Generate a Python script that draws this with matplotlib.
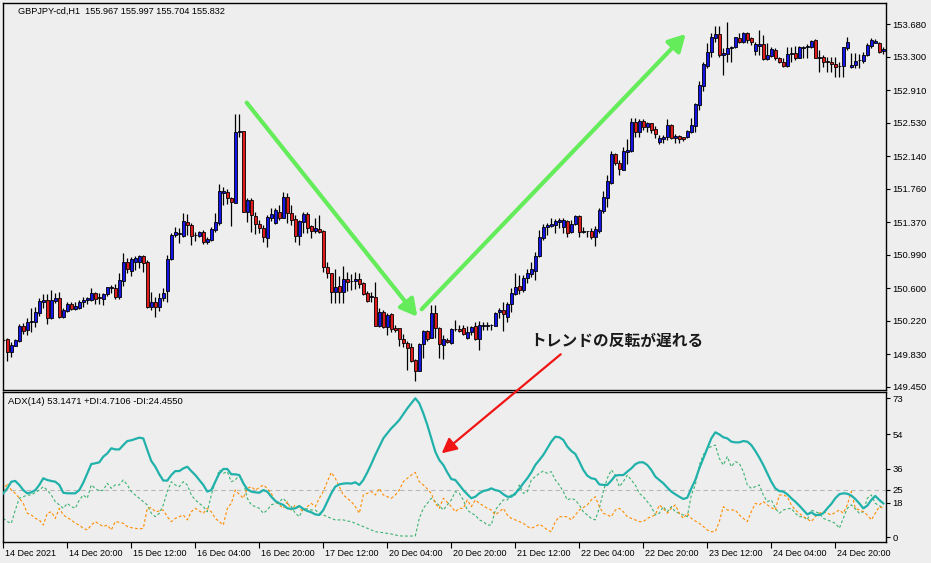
import matplotlib
matplotlib.use("Agg")
import matplotlib.pyplot as plt
from matplotlib.patches import FancyArrowPatch, Rectangle
import matplotlib.transforms as mtransforms

# ---------------- data ----------------
opens = [149.990,150.003,149.852,149.929,149.987,150.159,150.112,150.205,150.205,150.314,
         150.439,150.462,150.255,150.454,150.482,150.267,150.337,150.412,150.357,150.372,
         150.442,150.459,150.462,150.540,150.501,150.474,150.529,150.599,150.599,150.494,
         150.687,150.902,150.804,150.909,150.909,150.976,150.902,150.380,150.435,150.380,
         150.489,150.571,150.941,151.221,151.238,151.213,151.373,151.334,151.218,151.213,
         151.256,151.136,151.163,151.279,151.364,151.715,151.719,151.649,151.598,152.420,
         152.435,151.493,151.626,151.443,151.346,151.299,151.182,151.423,151.357,151.486,
         151.423,151.661,151.474,151.404,151.213,151.376,151.466,151.326,151.268,151.291,
         151.268,150.844,150.774,150.552,150.626,150.559,150.707,150.680,150.684,150.704,
         150.657,150.547,150.499,150.494,150.162,150.318,150.150,150.295,150.132,150.132,
         150.007,149.957,149.917,149.762,149.637,149.948,150.100,150.022,150.307,150.132,
         149.937,149.995,149.957,150.120,150.124,150.132,150.015,150.085,150.159,150.003,
         150.160,150.159,150.168,150.162,150.318,150.345,150.267,150.412,150.532,150.626,
         150.579,150.716,150.766,150.801,150.976,151.182,151.311,151.326,151.338,151.376,
         151.311,151.384,151.252,151.349,151.443,151.259,151.264,151.268,151.201,151.271,
         151.505,151.656,151.824,152.163,152.065,151.980,152.193,152.205,152.536,152.420,
         152.552,152.478,152.525,152.458,152.303,152.338,152.368,152.505,152.350,152.376,
         152.361,152.361,152.427,152.497,152.738,152.964,153.197,153.353,153.524,153.567,
         153.322,153.334,153.400,153.412,153.517,153.470,153.575,153.517,153.372,153.427,
         153.450,153.275,153.314,153.380,153.283,153.237,153.197,153.330,153.342,153.290,
         153.407,153.412,153.419,153.497,153.292,153.295,153.252,153.237,153.213,153.195,
         153.197,153.400,153.185,153.205,153.262,153.252,153.322,153.431,153.466,153.466,
         153.364]
highs = [150.030,150.018,149.972,150.007,150.178,150.194,150.248,150.369,150.384,150.489,
         150.532,150.529,150.579,150.540,150.559,150.372,150.442,150.435,150.442,150.462,
         150.501,150.501,150.599,150.552,150.540,150.540,150.617,150.637,150.645,150.774,
         151.007,150.949,150.968,150.979,150.987,150.987,150.929,150.559,150.501,150.540,
         150.599,150.987,151.244,151.318,151.299,151.474,151.463,151.357,151.259,151.268,
         151.279,151.194,151.318,151.474,151.816,151.778,151.754,151.668,152.633,152.633,
         152.440,151.656,151.656,151.486,151.396,151.338,151.454,151.540,151.540,151.571,
         151.719,151.708,151.571,151.454,151.396,151.486,151.486,151.338,151.423,151.454,
         151.274,150.909,150.780,150.824,150.746,150.859,150.785,150.762,150.785,150.774,
         150.669,150.567,150.559,150.676,150.365,150.345,150.307,150.307,150.170,150.139,
         150.062,149.984,149.957,149.774,149.955,150.112,150.112,150.404,150.404,150.150,
         150.054,150.022,150.139,150.229,150.170,150.170,150.159,150.162,150.209,150.217,
         150.209,150.209,150.178,150.318,150.365,150.435,150.435,150.606,150.774,150.754,
         150.754,150.824,150.906,151.026,151.279,151.349,151.364,151.416,151.404,151.423,
         151.423,151.396,151.396,151.454,151.454,151.311,151.271,151.299,151.326,151.532,
         151.738,151.921,152.201,152.175,152.096,152.252,152.341,152.583,152.583,152.575,
         152.575,152.543,152.532,152.493,152.388,152.388,152.571,152.513,152.396,152.388,
         152.368,152.447,152.590,152.765,153.019,153.244,153.459,153.575,153.660,153.660,
         153.400,153.711,153.431,153.536,153.575,153.594,153.594,153.536,153.477,153.614,
         153.555,153.459,153.412,153.400,153.302,153.283,153.412,153.412,153.431,153.431,
         153.431,153.447,153.497,153.509,153.380,153.322,153.302,153.302,153.302,153.244,
         153.419,153.536,153.342,153.342,153.330,153.353,153.459,153.517,153.506,153.474,
         153.419]
lows = [149.960,149.750,149.797,149.925,149.975,150.065,150.054,150.089,150.150,150.279,
        150.369,150.178,150.240,150.427,150.255,150.255,150.326,150.345,150.345,150.357,
        150.384,150.412,150.450,150.412,150.416,150.404,150.512,150.540,150.474,150.474,
        150.629,150.774,150.746,150.812,150.839,150.792,150.365,150.345,150.267,150.334,
        150.450,150.442,150.929,151.201,151.131,151.201,151.221,151.104,151.154,151.194,
        151.112,151.112,151.154,151.259,151.338,151.571,151.583,151.329,151.590,152.361,
        151.486,151.369,151.259,151.229,151.241,151.136,151.084,151.384,151.353,151.396,
        151.416,151.357,151.338,151.143,151.104,151.241,151.241,151.189,151.241,151.241,
        150.792,150.716,150.424,150.431,150.431,150.424,150.571,150.579,150.587,150.606,
        150.520,150.435,150.442,150.155,150.150,150.139,150.054,150.085,150.085,149.929,
        149.917,149.645,149.735,149.520,149.630,149.782,149.987,150.015,150.015,149.782,
        149.774,149.957,149.945,150.100,150.085,150.054,150.007,150.054,149.992,149.878,
        150.112,150.112,150.112,150.159,150.255,150.100,150.209,150.318,150.520,150.529,
        150.559,150.657,150.731,150.696,150.964,151.163,151.221,151.311,151.241,151.299,
        151.241,151.201,151.241,151.338,151.201,151.241,151.201,151.171,151.093,151.241,
        151.481,151.544,151.816,152.038,151.921,151.975,152.050,152.193,152.361,152.361,
        152.447,152.420,152.408,152.350,152.283,152.291,152.330,152.338,152.298,152.298,
        152.322,152.350,152.415,152.427,152.680,152.902,153.167,153.302,153.477,153.302,
        153.089,153.244,153.244,153.400,153.459,153.459,153.459,153.439,153.322,153.322,
        153.264,153.264,153.302,153.264,153.225,153.185,153.185,153.244,153.264,153.283,
        153.283,153.283,153.400,153.283,153.127,153.185,153.120,153.127,153.069,153.069,
        153.069,153.380,153.167,153.167,153.167,153.225,153.314,153.400,153.459,153.342,
        153.334]
closes = [150.000,149.855,149.937,149.995,150.159,150.100,150.209,150.212,150.322,150.450,
          150.462,150.255,150.462,150.489,150.267,150.345,150.412,150.357,150.392,150.435,
          150.459,150.482,150.540,150.474,150.482,150.529,150.610,150.617,150.501,150.696,
          150.902,150.824,150.941,150.956,150.976,150.890,150.380,150.435,150.380,150.489,
          150.540,150.941,151.221,151.252,151.244,151.381,151.334,151.213,151.224,151.252,
          151.136,151.174,151.291,151.369,151.734,151.734,151.649,151.603,152.420,152.431,
          151.493,151.626,151.454,151.346,151.299,151.194,151.428,151.463,151.509,151.423,
          151.661,151.474,151.396,151.213,151.384,151.466,151.306,151.268,151.306,151.252,
          150.844,150.774,150.559,150.614,150.559,150.707,150.676,150.688,150.704,150.645,
          150.532,150.450,150.503,150.162,150.318,150.150,150.287,150.124,150.112,150.003,
          149.957,149.905,149.754,149.637,149.948,150.100,150.007,150.307,150.132,149.945,
          150.007,149.968,150.120,150.127,150.100,150.062,150.092,150.150,150.003,150.170,
          150.165,150.170,150.172,150.314,150.345,150.295,150.416,150.547,150.617,150.579,
          150.716,150.774,150.824,150.979,151.194,151.311,151.338,151.349,151.384,151.396,
          151.396,151.241,151.349,151.443,151.259,151.262,151.266,151.201,151.287,151.513,
          151.661,151.851,152.163,152.065,151.988,152.201,152.213,152.536,152.420,152.552,
          152.478,152.525,152.447,152.396,152.357,152.368,152.505,152.350,152.376,152.338,
          152.338,152.435,152.505,152.747,152.972,153.217,153.353,153.529,153.567,153.322,
          153.349,153.400,153.419,153.529,153.470,153.575,153.497,153.477,153.450,153.450,
          153.275,153.322,153.389,153.283,153.237,153.197,153.330,153.349,153.290,153.412,
          153.419,153.431,153.485,153.290,153.297,153.244,153.237,153.213,153.185,153.199,
          153.412,153.470,153.205,153.255,153.266,153.322,153.439,153.497,153.489,153.353,
          153.389]

adx = [23.0,25.6,29.1,29.5,27.4,24.7,23.0,23.5,24.7,27.4,
       30.9,30.0,29.5,29.1,27.4,23.3,23.0,23.0,23.0,24.7,
       28.6,33.5,38.4,38.8,39.3,42.3,44.0,46.7,46.1,46.1,
       48.4,50.5,50.9,51.6,52.3,51.9,45.8,40.0,37.0,33.0,
       29.7,29.7,32.6,34.7,34.7,36.1,37.0,34.7,32.6,30.0,
       27.4,23.9,24.7,29.1,33.5,35.8,35.8,33.0,33.0,32.6,
       28.3,25.1,23.9,23.5,23.3,24.7,23.9,21.2,19.0,17.7,
       16.9,15.1,14.8,15.1,16.3,14.8,13.7,13.0,11.9,11.6,
       14.2,18.6,23.0,26.5,27.7,28.1,28.3,28.1,28.8,27.4,
       30.0,34.0,38.4,43.2,47.6,51.9,54.6,57.2,59.3,61.6,
       64.6,67.7,70.4,73.0,70.4,65.1,59.0,51.9,44.9,40.5,
       37.9,34.0,30.5,30.0,27.4,24.7,22.5,20.4,21.2,23.0,
       24.2,24.7,25.6,24.7,24.2,22.5,21.2,21.2,23.0,25.3,
       28.3,30.9,34.0,37.9,40.5,43.2,46.7,50.2,52.8,52.5,
       51.1,47.6,45.3,43.7,39.7,35.3,32.3,30.9,30.5,27.7,
       27.4,27.4,29.7,32.3,32.6,32.6,34.4,36.1,38.3,39.3,
       39.3,37.9,35.3,31.8,30.0,28.3,26.0,23.9,22.5,21.2,
       20.0,20.7,25.6,30.0,36.1,41.4,46.7,51.9,55.1,54.0,
       52.5,51.9,50.2,49.8,49.8,50.5,50.2,48.4,45.3,41.8,
       37.9,33.5,29.1,25.6,24.2,23.9,22.5,20.4,18.6,16.5,
       14.2,11.9,13.0,11.6,11.6,12.5,15.1,17.4,20.4,22.5,
       23.0,22.8,21.8,20.0,17.7,15.1,16.5,19.5,21.6,19.5,
       17.7]
plus_di = [9.8,8.1,7.2,14.2,20.4,21.2,22.1,22.1,23.5,24.7,
           26.5,24.7,22.1,18.6,16.9,15.1,17.7,16.0,15.1,19.5,
           22.1,20.4,27.4,25.6,24.2,24.7,28.3,25.6,27.4,27.4,
           30.0,27.4,23.9,22.1,20.4,18.6,16.9,12.5,10.7,12.5,
           16.9,23.9,29.1,27.4,26.5,29.1,27.4,22.1,19.5,17.7,
           16.0,13.3,22.1,29.1,35.3,33.5,34.4,29.1,30.0,32.6,
           29.1,20.4,16.9,16.0,15.1,12.5,14.2,16.9,17.7,18.6,
           20.4,17.7,16.0,12.5,10.7,15.1,14.8,14.2,14.2,12.5,
           11.6,10.7,9.8,9.0,9.0,9.0,8.4,8.1,7.2,6.3,
           5.5,4.6,3.7,2.8,2.5,2.3,1.9,1.6,1.1,0.6,
           0.5,0.5,0.5,0.6,9.8,15.1,17.7,20.4,18.6,16.5,
           14.2,16.9,19.5,23.9,23.0,19.5,14.2,12.5,11.6,9.0,
           8.1,6.3,6.3,14.2,16.9,19.5,19.5,22.1,22.1,27.4,
           23.0,23.9,30.0,31.8,33.5,34.7,33.5,34.4,30.0,27.4,
           23.9,19.5,20.4,19.5,16.9,13.3,11.6,9.8,9.0,15.1,
           23.9,30.9,35.3,32.6,26.5,29.1,32.6,30.0,27.4,23.0,
           21.2,18.6,16.0,11.6,12.5,16.0,13.3,16.0,13.3,12.5,
           11.6,10.7,22.1,27.4,37.9,43.2,46.7,47.6,48.4,41.4,
           37.9,42.3,37.0,39.7,38.8,34.4,27.4,25.6,26.5,27.4,
           22.1,18.6,19.5,15.1,12.5,14.2,14.8,15.1,12.5,10.7,
           10.7,9.0,14.2,13.3,12.5,9.8,9.0,8.1,7.2,4.6,
           9.8,15.1,16.9,14.8,12.5,13.3,20.4,22.1,17.7,16.5,
           15.1]
minus_di = [23.9,28.3,24.7,23.0,20.4,17.7,12.5,11.6,9.8,9.0,
            6.3,12.5,13.3,9.8,15.1,11.6,10.2,9.0,7.2,6.3,
            4.6,3.7,6.3,8.1,6.7,5.5,6.3,3.7,8.1,7.7,
            7.2,5.5,4.9,4.6,4.2,4.6,15.1,15.5,13.3,13.7,
            14.2,10.7,8.1,9.8,10.7,11.6,9.0,13.3,15.1,13.7,
            12.5,15.1,13.3,9.8,8.1,6.3,15.1,17.7,24.7,22.5,
            20.4,25.6,26.5,24.7,26.0,27.4,25.6,23.0,18.6,16.9,
            15.1,18.6,14.2,16.9,15.1,13.3,16.0,17.7,16.0,20.4,
            23.9,29.1,34.0,30.9,26.5,22.1,20.4,18.6,16.0,12.5,
            22.1,23.0,23.9,22.1,25.6,22.1,21.2,20.4,22.1,24.7,
            29.1,30.9,32.6,34.0,29.1,27.4,25.3,23.0,17.7,15.1,
            20.4,18.3,16.0,13.3,15.1,15.1,19.5,16.0,19.5,17.7,
            16.5,15.1,14.2,11.6,13.3,15.1,11.6,9.8,9.0,8.1,
            7.2,5.5,4.6,5.5,6.7,5.5,3.7,2.8,8.1,10.7,
            10.7,10.7,9.0,11.6,14.2,15.5,16.9,19.5,21.2,16.0,
            12.5,11.6,10.7,14.2,15.1,13.3,10.7,9.8,9.0,8.1,
            8.1,9.8,10.7,11.6,16.9,15.1,12.5,15.1,16.9,12.5,
            9.8,12.5,9.8,8.4,7.2,5.5,3.7,2.8,2.8,8.1,
            16.0,14.2,14.2,14.2,11.6,9.8,8.1,13.3,17.7,16.9,
            18.6,16.9,15.5,14.2,22.1,22.1,21.2,16.9,14.2,12.5,
            10.7,9.5,8.1,10.7,12.5,13.3,12.5,11.6,13.0,14.2,
            12.5,16.9,23.9,15.1,14.2,13.3,11.6,9.0,12.5,16.0,
            15.1]

time_labels = ["14 Dec 2021", "14 Dec 20:00", "15 Dec 12:00", "16 Dec 04:00",
               "16 Dec 20:00", "17 Dec 12:00", "20 Dec 04:00", "20 Dec 20:00",
               "21 Dec 12:00", "22 Dec 04:00", "22 Dec 20:00", "23 Dec 12:00",
               "24 Dec 04:00", "24 Dec 20:00"]
time_label_bars = [0, 16, 32, 48, 64, 80, 96, 112, 128, 144, 160, 176, 192, 208]
price_ticks = [153.680, 153.300, 152.910, 152.530, 152.140, 151.760,
               151.370, 150.990, 150.600, 150.220, 149.830, 149.450]
adx_ticks = [73, 54, 36, 25, 18, 0]
adx_level = 25

header_text = "GBPJPY-cd,H1  155.967 155.997 155.704 155.832"
adx_header = "ADX(14) 53.1471 +DI:4.7106 -DI:24.4550"
note_text = "トレンドの反転が遅れる"

# ---------------- figure ----------------
plt.rcParams['font.family'] = ['Liberation Sans', 'DejaVu Sans']
BG = '#EEEEEE'
W, H = 931, 563
fig = plt.figure(figsize=(W / 100, H / 100), dpi=100, facecolor=BG)


def fx(px):
    return px / W


def fy(py):
    return 1 - py / H


ax = fig.add_axes([fx(3), fy(390), fx(885.7) - fx(3), fy(2.7) - fy(390)], facecolor=BG)
ax2 = fig.add_axes([fx(3), fy(541.7), fx(885.7) - fx(3), fy(392.3) - fy(541.7)], facecolor=BG)

n = len(opens)
xs = list(range(n))
xlim = (-0.075, 220.6)

# candles
for i in xs:
    o, h, l, c = opens[i], highs[i], lows[i], closes[i]
    ax.vlines(i, l, h, color='black', lw=0.9, zorder=2)
    bottom = min(o, c)
    height = max(abs(c - o), 0.003)
    col = '#1515E6' if c >= o else '#E01B1B'
    ax.add_patch(Rectangle((i - 0.4, bottom), 0.8, height, facecolor=col,
                           edgecolor='black', lw=0.6, zorder=3))

ax.set_xlim(*xlim)
ax.set_ylim(149.4115, 153.932)
ax.set_xticks([])
ax.yaxis.tick_right()
ax.set_yticks(price_ticks)
ax.set_yticklabels([f"{p:.3f}" for p in price_ticks])
ax.tick_params(axis='y', length=3, width=0.8, pad=2, labelsize=6.8, colors='black')
for sp in ax.spines.values():
    sp.set_color('black')
    sp.set_linewidth(1.0)

# green arrows
green = '#64EC5A'
ax.annotate('', xy=(103.5, 150.267), xytext=(60.85, 152.765),
            arrowprops=dict(arrowstyle='-|>,head_length=1.0,head_width=0.55',
                            color=green, lw=3.0, shrinkA=0, shrinkB=0))
ax.annotate('', xy=(170.6, 153.567), xytext=(104.6, 150.354),
            arrowprops=dict(arrowstyle='-|>,head_length=1.0,head_width=0.55',
                            color=green, lw=3.0, shrinkA=0, shrinkB=0))

# Japanese note
fig.text(fx(530), fy(340.5), note_text, ha='left', va='center', fontsize=11.3,
         fontweight='bold', color='#1A1A1A',
         family=['Noto Sans CJK JP', 'DejaVu Sans'])

# ADX panel
ax2.axhline(adx_level, color='#B8B8B8', lw=0.8, ls=(0, (4, 3)), zorder=1)
ax2.plot(xs, plus_di, color='#3CB371', lw=0.8, ls=(0, (2.5, 2)), zorder=2)
ax2.plot(xs, minus_di, color='#FF8C00', lw=0.8, ls=(0, (2.5, 2)), zorder=2)
ax2.plot(xs, adx, color='#20B2AA', lw=1.6, zorder=3)
ax2.set_xlim(*xlim)
ax2.set_ylim(-2.47, 76.16)
ax2.yaxis.tick_right()
ax2.set_yticks(adx_ticks)
ax2.set_yticklabels([str(t) for t in adx_ticks])
ax2.tick_params(axis='y', length=3, width=0.8, pad=2, labelsize=6.8, colors='black')
ax2.set_xticks(time_label_bars)
ax2.set_xticklabels(time_labels)
ax2.tick_params(axis='x', length=4, width=0.8, pad=1, labelsize=6.5, colors='black')
offset = mtransforms.ScaledTranslation(1.5 / 100, 0, fig.dpi_scale_trans)
for lab in ax2.get_xticklabels():
    lab.set_horizontalalignment('left')
    lab.set_transform(lab.get_transform() + offset)
for sp in ax2.spines.values():
    sp.set_color('black')
    sp.set_linewidth(1.0)

# headers
fig.text(fx(18.3), fy(11), header_text, ha='left', va='center', fontsize=6.6, color='black')
fig.text(fx(7.7), fy(401.7), adx_header, ha='left', va='center', fontsize=6.8, color='black')

# red arrow across panels
red_arrow = FancyArrowPatch((fx(560.7), fy(354.3)), (fx(441.7), fy(453.3)),
                            transform=fig.transFigure,
                            arrowstyle='-|>,head_length=0.9,head_width=0.45',
                            mutation_scale=10, color='#F01414', lw=1.6,
                            shrinkA=0, shrinkB=0, zorder=10)
fig.add_artist(red_arrow)

fig.savefig('out.png', dpi=100, facecolor=BG)
